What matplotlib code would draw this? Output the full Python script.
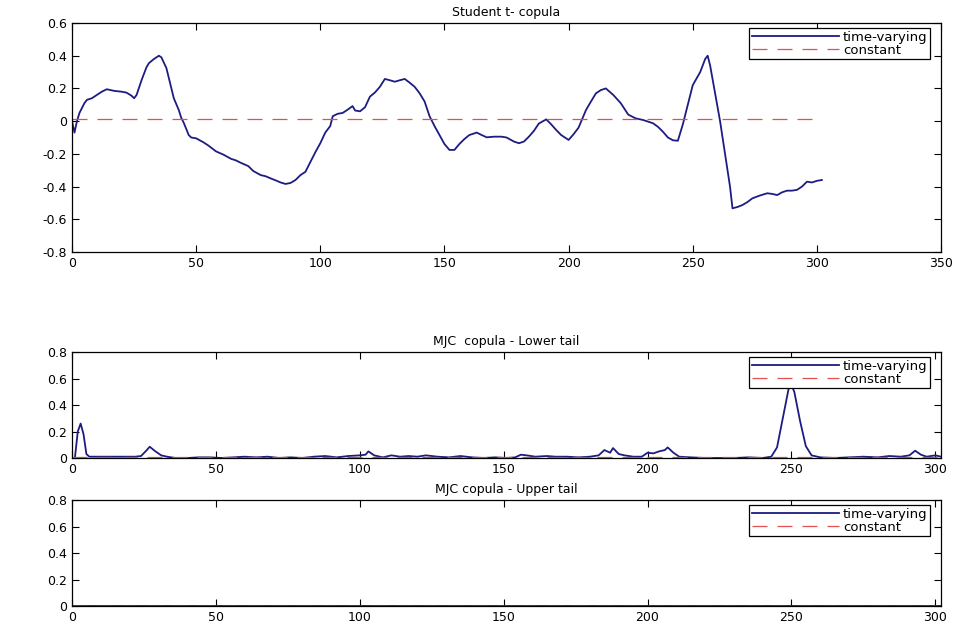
import matplotlib
matplotlib.use("Agg")
import matplotlib.pyplot as plt
from matplotlib.ticker import FuncFormatter

# Student t copula, time-varying correlation
t_pos = [0, 1, 2, 3, 5, 6, 8, 10, 12, 14, 17, 20, 22, 24, 25, 26, 28, 30, 31, 33,
         35, 36, 38, 40, 41, 43, 44, 45, 47, 48, 50, 53, 55, 58, 61, 64, 66, 68, 71, 73,
         76, 78, 80, 82, 84, 86, 88, 90, 92, 94, 96, 98, 100, 102, 104, 105, 107, 109, 111, 113,
         114, 116, 118, 120, 122, 124, 126, 128, 130, 132, 134, 136, 138, 140, 142, 144, 146, 148, 150, 152,
         154, 156, 158, 160, 163, 165, 167, 170, 173, 175, 178, 180, 182, 184, 186, 188, 191, 193, 195, 197,
         200, 202, 204, 207, 209, 211, 213, 215, 218, 221, 224, 227, 230, 234, 236, 238, 240, 242, 244, 246,
         248, 250, 253, 255, 256, 257, 259, 261, 263, 265, 266, 268, 270, 272, 274, 277, 280, 282, 284, 286,
         288, 290, 292, 294, 296, 298, 300, 302]
t_rho = [0.0, -0.07, 0.0, 0.05, 0.11, 0.13, 0.14, 0.16, 0.18, 0.195, 0.185, 0.18, 0.174, 0.155, 0.14, 0.16, 0.25, 0.33, 0.355, 0.38,
         0.40, 0.39, 0.325, 0.2, 0.14, 0.068, 0.02, -0.01, -0.085, -0.1, -0.105, -0.13, -0.15, -0.185, -0.205, -0.23, -0.24, -0.255, -0.275, -0.305,
         -0.33, -0.337, -0.35, -0.362, -0.375, -0.384, -0.378, -0.36, -0.33, -0.31, -0.25, -0.19, -0.135, -0.07, -0.03, 0.03, 0.045, 0.05, 0.07, 0.092,
         0.065, 0.06, 0.085, 0.15, 0.175, 0.21, 0.258, 0.25, 0.241, 0.25, 0.258, 0.235, 0.21, 0.17, 0.12, 0.03, -0.03, -0.085, -0.14, -0.176,
         -0.176, -0.14, -0.11, -0.085, -0.07, -0.085, -0.099, -0.095, -0.095, -0.1, -0.125, -0.135, -0.125, -0.095, -0.06, -0.015, 0.011, -0.02, -0.054, -0.085,
         -0.115, -0.08, -0.04, 0.068, 0.12, 0.17, 0.19, 0.2, 0.16, 0.11, 0.04, 0.017, 0.007, -0.013, -0.035, -0.065, -0.1, -0.117, -0.12, -0.02,
         0.1, 0.22, 0.3, 0.38, 0.40, 0.34, 0.17, 0.0, -0.2, -0.4, -0.533, -0.525, -0.513, -0.495, -0.472, -0.455, -0.441, -0.445, -0.452, -0.435,
         -0.425, -0.425, -0.42, -0.4, -0.37, -0.375, -0.365, -0.36]
t_const = 0.012

# MJC copula tail dependence
mjc_pos = [0, 1, 2, 3, 4, 5, 6, 10, 14, 18, 22, 24, 26, 27, 29, 31, 33, 36, 40, 44,
           48, 52, 56, 60, 64, 68, 72, 76, 80, 84, 88, 92, 96, 100, 102, 103, 105, 108, 111, 114,
           117, 120, 123, 127, 131, 135, 139, 143, 147, 151, 154, 156, 158, 161, 165, 168, 172, 176, 180, 183,
           185, 187, 188, 190, 192, 195, 198, 200, 202, 204, 206, 207, 209, 211, 215, 220, 225, 230, 235, 240,
           243, 245, 247, 249, 250, 251, 253, 255, 257, 260, 265, 270, 275, 280, 284, 288, 291, 293, 295, 297,
           300, 302]
mjc_lower = [0.0, 0.0, 0.2, 0.26, 0.18, 0.03, 0.01, 0.01, 0.01, 0.01, 0.01, 0.015, 0.06, 0.085, 0.05, 0.02, 0.01, 0.0, 0.0, 0.005,
             0.005, 0.0, 0.005, 0.01, 0.005, 0.01, 0.0, 0.005, 0.0, 0.01, 0.015, 0.005, 0.015, 0.02, 0.025, 0.05, 0.02, 0.005, 0.02, 0.01,
             0.015, 0.01, 0.02, 0.01, 0.005, 0.015, 0.005, 0.0, 0.005, 0.0, 0.005, 0.025, 0.02, 0.01, 0.015, 0.01, 0.01, 0.005, 0.01, 0.02,
             0.06, 0.04, 0.075, 0.03, 0.02, 0.01, 0.01, 0.04, 0.035, 0.05, 0.06, 0.08, 0.04, 0.01, 0.005, 0.0, 0.0, 0.0, 0.005, 0.0,
             0.01, 0.08, 0.3, 0.52, 0.55, 0.5, 0.28, 0.09, 0.02, 0.005, 0.0, 0.005, 0.01, 0.005, 0.015, 0.01, 0.02, 0.055, 0.025, 0.01,
             0.02, 0.01]
mjc_upper = [0.0] * len(mjc_pos)
lower_const = 0.01
upper_const = 0.0

plt.rcParams['font.family'] = ['DejaVu Sans']
plt.rcParams['font.size'] = 9

blue = '#1c1c82'
red = '#e05050'
dash = (0, (12, 8))

fig = plt.figure(figsize=(9.64, 6.32), dpi=100)
ax1 = fig.add_axes([0.0747, 0.6013, 0.9015, 0.3623])
ax2 = fig.add_axes([0.0747, 0.2753, 0.9015, 0.1677])
ax3 = fig.add_axes([0.0747, 0.0411, 0.9015, 0.1677])

fmt = FuncFormatter(lambda v, p: '0' if abs(v) < 1e-9 else f'{v:g}')

ax1.plot(t_pos, t_rho, color=blue, lw=1.3, label='time-varying')
ax1.plot([t_pos[0], t_pos[-1]], [t_const, t_const], color=red, lw=0.9, ls=dash, label='constant')
ax1.set_xlim(0, 350)
ax1.set_ylim(-0.8, 0.6)
ax1.set_xticks(range(0, 351, 50))
ax1.set_yticks([-0.8, -0.6, -0.4, -0.2, 0, 0.2, 0.4, 0.6])
ax1.set_title('Student t- copula', fontsize=9, pad=5)

ax2.plot(mjc_pos, mjc_lower, color=blue, lw=1.3, label='time-varying')
ax2.plot([mjc_pos[0], mjc_pos[-1]], [lower_const, lower_const], color=red, lw=0.9, ls=dash, label='constant')
ax2.set_title('MJC  copula - Lower tail', fontsize=9, pad=5)

ax3.plot(mjc_pos, mjc_upper, color=blue, lw=1.3, label='time-varying')
ax3.plot([mjc_pos[0], mjc_pos[-1]], [upper_const, upper_const], color=red, lw=0.9, ls=dash, label='constant')
ax3.set_title('MJC copula - Upper tail', fontsize=9, pad=5)

for ax in (ax2, ax3):
    ax.set_xlim(0, 302)
    ax.set_ylim(0, 0.8)
    ax.set_xticks(range(0, 301, 50))
    ax.set_yticks([0, 0.2, 0.4, 0.6, 0.8])

for ax, top_gap in ((ax1, 5 / 229), (ax2, 5 / 106), (ax3, 5 / 106)):
    ax.yaxis.set_major_formatter(fmt)
    ax.tick_params(direction='in', top=True, right=True, length=5, width=0.8, labelsize=9)
    for s in ax.spines.values():
        s.set_linewidth(0.9)
    leg = ax.legend(loc='upper right', bbox_to_anchor=(0.9873, 1 - top_gap), borderaxespad=0,
                    fontsize=9.5, handlelength=6.6, handletextpad=0.3,
                    labelspacing=0.0, borderpad=0.2, fancybox=False, framealpha=1)
    leg.get_frame().set_edgecolor('black')
    leg.get_frame().set_linewidth(0.9)

fig.savefig('out.png', dpi=100)
